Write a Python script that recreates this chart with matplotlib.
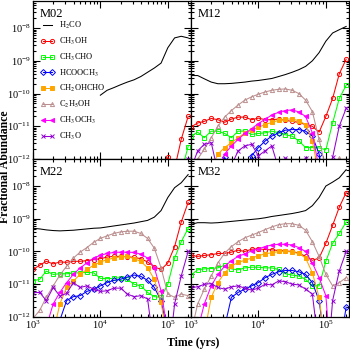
import numpy as np
import matplotlib
matplotlib.use("Agg")
import matplotlib.pyplot as plt
from matplotlib.ticker import LogLocator, NullFormatter

plt.rcParams['font.family'] = ['Liberation Serif', 'DejaVu Serif']
plt.rcParams['mathtext.fontset'] = 'stix'
plt.rcParams['axes.unicode_minus'] = False

nan = np.nan

# model time grid (yrs)
time_yrs = [1.00e3, 1.26e3, 1.58e3, 2.00e3, 2.51e3, 3.16e3, 3.98e3, 5.01e3,
            6.31e3, 7.94e3, 1.00e4, 1.26e4, 1.58e4, 2.00e4, 2.51e4, 3.16e4,
            3.98e4, 5.01e4, 6.31e4, 7.94e4, 1.00e5, 1.26e5, 1.58e5, 2.00e5]

species = ['H$_2$CO', 'CH$_3$OH', 'CH$_3$CHO', 'HCOOCH$_3$', 'CH$_2$OHCHO',
           'C$_2$H$_5$OH', 'CH$_3$OCH$_3$', 'CH$_3$O']
models = ['M02', 'M12', 'M22', 'M32']

# log10 fractional abundances
m02_h2co = [nan]*10 + [-10.05, -9.9, -9.82, -9.73, -9.65, -9.58, -9.48, -9.35, -9.22, -9.07, -8.6, -8.3, -8.25, -8.3]
m02_ch3oh = [nan]*19 + [-13, -11.95, -12.3, -11.4, -10.7]
m02_ch3cho = [nan]*21 + [-13.5, -12.4, -11.62]
m02_hcooch3 = [nan]*24
m02_ch2ohcho = [nan]*24
m02_c2h5oh = [nan]*24
m02_ch3och3 = [nan]*24
m02_ch3o = [nan]*21 + [-14, -13, -12.0]

m12_h2co = [-9.45, -9.45, -9.55, -9.65, -9.7, -9.7, -9.69, -9.67, -9.65, -9.62, -9.6, -9.57,
            -9.54, -9.48, -9.42, -9.35, -9.27, -9.17, -9.0, -8.75, -8.4, -8.15, -8.05, -7.95]
m12_ch3oh = [-11.02, -10.9, -10.85, -10.76, -10.8, -10.88, -10.78, -10.72, -10.72, -10.8, -10.75, -10.8,
             -10.8, -10.78, -10.82, -10.85, -10.88, -10.95, -11.0, -11.18, -10.7, -10.15, -9.4, -8.95]
m12_ch3cho = [-11.3, -11.18, -11.35, -11.15, -11.15, -11.22, -11.35, -11.15, -11.15, -11.25, -11.22, -11.2,
              -11.15, -11.2, -11.26, -11.3, -11.45, -11.65, -11.65, -11.66, -11.72, -10.9, -10.15, -9.75]
m12_hcooch3 = [-13, -13, -13, -13, -13, -11.95, -12.3, -12.5, -12.4, -11.9, -11.65, -11.45,
               -11.3, -11.2, -11.12, -11.1, -11.1, -11.15, -11.3, -11.85, -13, -14, -14, -14]
m12_ch2ohcho = [-13, -13, -13, -12.3, -11.85, -11.65, -11.5, -11.35, -11.2, -11.12, -11.03, -10.95,
                -10.88, -10.82, -10.78, -10.78, -10.83, -10.95, -11.45, -12.5, -14, -14, -14, -14]
m12_c2h5oh = [-12.5, -12.0, -11.7, -11.35, -11.0, -10.72, -10.52, -10.35, -10.2, -10.1, -10.02, -9.95,
              -9.9, -9.87, -9.86, -9.9, -10.0, -10.2, -10.55, -11.4, -12.3, -12.3, -11.97, -12.2]
m12_ch3och3 = [-13, -13, -13, -13, -12.4, -11.85, -11.6, -11.4, -11.22, -11.07, -10.92, -10.78,
               -10.66, -10.57, -10.52, -10.5, -10.56, -10.7, -11.2, -12.3, -14, -14, -14, -14]
m12_ch3o = [-12.3, -11.75, -11.55, -11.5, -12.4, -12.6, -12.2, -11.75, -11.6, -11.55, -11.9, -11.75,
            -11.6, -12.3, -11.97, -12.1, -12.2, -11.97, -12.3, -12.6, -12.8, -11.95, -11.0, -10.45]

m22_h2co = [-9.29, -9.31, -9.34, -9.36, -9.37, -9.36, -9.35, -9.33, -9.31, -9.29, -9.28, -9.25,
            -9.22, -9.19, -9.16, -9.13, -9.09, -9.05, -8.95, -8.75, -8.35, -8.05, -7.9, -7.65]
m22_ch3oh = [-10.55, -10.42, -10.3, -10.38, -10.32, -10.33, -10.3, -10.3, -10.28, -10.25, -10.22, -10.17,
             -10.15, -10.15, -10.16, -10.18, -10.22, -10.32, -10.47, -10.55, -10.35, -9.85, -9.1, -8.5]
m22_ch3cho = [-10.9, -10.85, -10.6, -10.7, -10.68, -10.68, -10.66, -10.65, -10.64, -10.65, -10.82, -10.83,
              -10.82, -10.8, -10.85, -11.0, -11.05, -11.25, -11.38, -11.4, -11.0, -10.2, -9.7, -9.3]
m22_hcooch3 = [-13, -13, -13, -12.8, -12.1, -11.5, -11.38, -11.35, -11.22, -11.15, -11.05, -10.95,
               -10.88, -10.85, -10.78, -10.72, -10.76, -10.88, -11.1, -11.5, -12.5, -13.5, -14, -14]
m22_ch2ohcho = [-13, -13, -12.8, -12.5, -11.6, -11.1, -10.9, -10.7, -10.55, -10.42, -10.32, -10.25,
                -10.2, -10.16, -10.15, -10.22, -10.3, -10.5, -10.85, -11.55, -12.8, -14, -14, -14]
m22_c2h5oh = [-12.05, -11.8, -11.4, -11.05, -10.72, -10.45, -10.2, -10.02, -9.88, -9.72, -9.6, -9.52,
              -9.45, -9.4, -9.38, -9.38, -9.45, -9.6, -9.9, -10.5, -11.3, -11.4, -11.3, -11.35]
m22_ch3och3 = [-13, -13, -12.3, -11.6, -11.25, -10.95, -10.7, -10.5, -10.35, -10.2, -10.12, -10.06,
               -10.03, -10.02, -10.02, -10.03, -10.08, -10.2, -10.5, -11.2, -12.5, -14, -14, -14]
m22_ch3o = [-11.26, -11.25, -11.5, -11.1, -11.36, -11.28, -10.95, -11.1, -11.05, -11.15, -11.22, -11.2,
            -11.12, -11.12, -11.3, -11.38, -11.35, -11.45, -13, -14, -13.5, -11.6, -10.75, -10.0]

m32_h2co = [-9.17, -9.12, -9.12, -9.13, -9.12, -9.1, -9.08, -9.06, -9.04, -9.02, -9.0, -8.97,
            -8.93, -8.9, -8.87, -8.84, -8.8, -8.75, -8.6, -8.35, -8.0, -7.88, -7.75, -7.5]
m32_ch3oh = [-10.12, -10.15, -10.12, -10.1, -10.06, -10.06, -10.02, -9.96, -10.0, -9.93, -9.92, -9.94,
             -9.95, -9.97, -9.98, -10.0, -10.05, -10.15, -10.27, -10.2, -9.75, -9.2, -8.65, -8.2]
m32_ch3cho = [-10.72, -10.56, -10.53, -10.52, -10.5, -10.42, -10.53, -10.56, -10.5, -10.48, -10.48, -10.5,
              -10.5, -10.55, -10.68, -10.72, -10.75, -10.85, -11.05, -11.05, -10.3, -9.75, -9.45, -9.1]
m32_hcooch3 = [-13, -13, -13, -13, -13, -12.3, -11.4, -11.25, -11.15, -11.05, -10.95, -10.8,
               -10.7, -10.62, -10.58, -10.58, -10.62, -10.7, -10.95, -11.5, -13, -14, -13, -11.7]
m32_ch2ohcho = [-13, -13, -12.5, -11.4, -10.95, -10.65, -10.45, -10.33, -10.27, -10.2, -10.13, -10.07,
                -10.04, -10.0, -9.99, -10.02, -10.06, -10.2, -10.65, -11.4, -13, -14, -14, -14]
m32_c2h5oh = [-12.5, -11.6, -11.15, -10.75, -10.35, -10.05, -9.85, -9.7, -9.58, -9.5, -9.42, -9.33,
              -9.25, -9.18, -9.15, -9.15, -9.2, -9.35, -9.7, -10.15, -10.7, -11.05, -10.95, -10.8]
m32_ch3och3 = [-13, -12.4, -11.6, -11.05, -10.7, -10.45, -10.28, -10.15, -10.07, -9.98, -9.92, -9.85,
               -9.8, -9.78, -9.78, -9.8, -9.88, -10.0, -10.35, -10.8, -11.35, -14, -14, -14]
m32_ch3o = [-11.1, -11.08, -11.0, -10.98, -11.1, -11.15, -11.08, -11.05, -11.12, -11.18, -11.12, -11.0,
            -11.02, -10.9, -10.92, -11.0, -11.02, -11.15, -11.3, -13, -14, -11.5, -10.6, -10.0]

panel_data = [
    [m02_h2co, m02_ch3oh, m02_ch3cho, m02_hcooch3, m02_ch2ohcho, m02_c2h5oh, m02_ch3och3, m02_ch3o],
    [m12_h2co, m12_ch3oh, m12_ch3cho, m12_hcooch3, m12_ch2ohcho, m12_c2h5oh, m12_ch3och3, m12_ch3o],
    [m22_h2co, m22_ch3oh, m22_ch3cho, m22_hcooch3, m22_ch2ohcho, m22_c2h5oh, m22_ch3och3, m22_ch3o],
    [m32_h2co, m32_ch3oh, m32_ch3cho, m32_hcooch3, m32_ch2ohcho, m32_c2h5oh, m32_ch3och3, m32_ch3o],
]

# colour, marker, filled?
styles = [('#000000', None, False),
          ('#ff0000', 'o', False),
          ('#00ff00', 's', False),
          ('#0000ff', 'D', False),
          ('#ffa500', 's', True),
          ('#bc8f8f', '^', False),
          ('#ff00ff', '<', True),
          ('#9400d3', 'x', True)]

fig, axes = plt.subplots(2, 2, sharex=True, sharey=True, figsize=(3.5, 3.51), dpi=100)
fig.subplots_adjust(left=0.094, right=0.997, bottom=0.097, top=0.997, wspace=0, hspace=0)

t = np.array(time_yrs)
for ax, name, series in zip(axes.flat, models, panel_data):
    for label, vals, (col, mk, filled) in zip(species, series, styles):
        y = 10.0 ** np.array(vals, dtype=float)
        ax.plot(t, y, color=col, lw=0.75, marker=mk, markersize=3.0 if mk != 'x' else 2.6,
                mfc=col if filled else 'none', mec=col, mew=0.7, label=label)
    ax.set_xscale('log')
    ax.set_yscale('log')
    ax.set_xlim(1e3, 2.2e5)
    ax.set_ylim(1e-12, 6.7e-8)
    ax.xaxis.set_major_locator(LogLocator(base=10, numticks=10))
    ax.xaxis.set_minor_locator(LogLocator(base=10, subs=np.arange(2, 10), numticks=20))
    ax.yaxis.set_major_locator(LogLocator(base=10, numticks=10))
    ax.yaxis.set_minor_locator(LogLocator(base=10, subs=np.arange(2, 10), numticks=20))
    ax.xaxis.set_minor_formatter(NullFormatter())
    ax.yaxis.set_minor_formatter(NullFormatter())
    ax.tick_params(which='both', direction='in', top=True, right=True, labelsize=7.5, pad=1.5, width=0.8)
    ax.tick_params(which='major', length=5)
    ax.tick_params(which='minor', length=2.5)
    for sp in ax.spines.values():
        sp.set_linewidth(0.9)
    ax.text(0.045, 0.955, name, transform=ax.transAxes, fontsize=9, va='top', ha='left')

axes[0, 0].legend(loc='upper left', bbox_to_anchor=(0.045, 0.88), frameon=False, fontsize=6,
                  borderpad=0, borderaxespad=0, handlelength=1.7, handletextpad=0.6,
                  labelspacing=0.55, numpoints=2)

fig.text(0.013, 0.524, 'Fractional Abundance', rotation=90, fontsize=8.5, fontweight='bold',
         ha='center', va='center')
fig.text(0.551, 0.022, 'Time (yrs)', fontsize=8.5, fontweight='bold', ha='center', va='center')

fig.savefig('out.png', dpi=100)
